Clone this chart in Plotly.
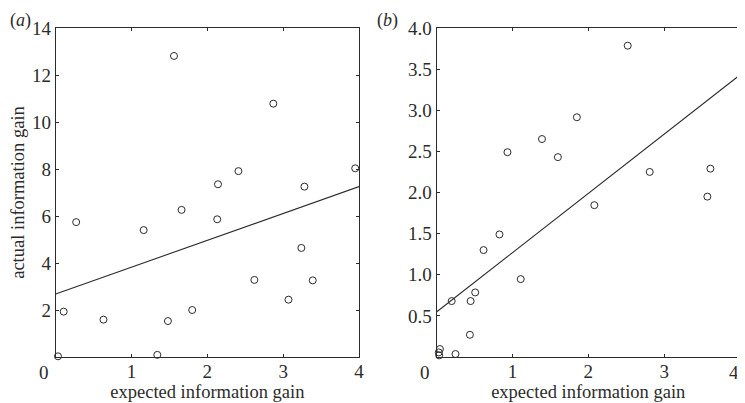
import plotly.graph_objects as go

# Panel (a)
a_expected = [0.03, 0.105, 0.27, 0.63, 1.16, 1.34, 1.48, 1.56, 1.66, 1.80,
              2.13, 2.14, 2.41, 2.62, 2.87, 3.07, 3.24, 3.28, 3.39, 3.95]
a_actual = [0.03, 1.93, 5.74, 1.59, 5.40, 0.09, 1.53, 12.81, 6.26, 2.00,
            5.86, 7.35, 7.91, 3.28, 10.78, 2.44, 4.64, 7.25, 3.26, 8.03]
a_fit_x = [0, 4]
a_fit_y = [2.68, 7.25]

# Panel (b)
b_expected = [0.045, 0.03, 0.035, 0.25, 0.20, 0.44, 0.45, 0.51, 0.62, 0.83,
              0.935, 1.11, 1.39, 1.60, 1.85, 2.08, 2.52, 2.81, 3.57, 3.61]
b_actual = [0.097, 0.056, 0.02, 0.036, 0.68, 0.27, 0.68, 0.785, 1.30, 1.49,
            2.49, 0.947, 2.65, 2.43, 2.915, 1.846, 3.785, 2.25, 1.95, 2.29]
b_fit_x = [0, 4]
b_fit_y = [0.547, 3.43]

a_x_ticks = [1, 2, 3, 4]
b_x_ticks = [1, 2, 3]
x_zero_label = "0"
b_x_last_label = "4"
a_y_ticks = [2, 4, 6, 8, 10, 12, 14]
b_y_ticks = [0.5, 1.0, 1.5, 2.0, 2.5, 3.0, 3.5, 4.0]
b_y_labels = ["0.5", "1.0", "1.5", "2.0", "2.5", "3.0", "3.5", "4.0"]

INK = "#2b2b2b"
FONT = "Liberation Serif, Times New Roman, serif"

fig = go.Figure()
marker = dict(symbol="circle-open", size=7, color=INK, line=dict(width=1, color=INK))

fig.add_trace(go.Scatter(x=a_expected, y=a_actual, mode="markers", marker=marker,
                         xaxis="x", yaxis="y", showlegend=False, cliponaxis=False))
fig.add_trace(go.Scatter(x=a_fit_x, y=a_fit_y, mode="lines", line=dict(color=INK, width=1.1),
                         xaxis="x", yaxis="y", showlegend=False))
fig.add_trace(go.Scatter(x=b_expected, y=b_actual, mode="markers", marker=marker,
                         xaxis="x2", yaxis="y2", showlegend=False, cliponaxis=False))
fig.add_trace(go.Scatter(x=b_fit_x, y=b_fit_y, mode="lines", line=dict(color=INK, width=1.1),
                         xaxis="x2", yaxis="y2", showlegend=False))

# page body has an 8px margin; figure sized so it ends at the window edge
OFF = 8
W, H = 745 - OFF, 403 - OFF
ydom = [1 - (357 - OFF) / H, 1 - (28 - OFF) / H]

TICK_SIZE = 19
common = dict(showline=True, linecolor=INK, linewidth=1, mirror="ticks", ticks="inside",
              ticklen=3, tickcolor=INK, tickwidth=1, showgrid=False, zeroline=False,
              automargin=False, ticklabeloverflow="allow",
              tickfont=dict(family=FONT, size=TICK_SIZE, color=INK))
title_font = dict(family=FONT, size=18.5, color=INK)

fig.update_layout(
    width=W, height=H, margin=dict(l=0, r=0, t=0, b=0),
    paper_bgcolor="white", plot_bgcolor="white",
    xaxis=dict(domain=[(55.7 - OFF) / W, (359 - OFF) / W], range=[0, 4], tickvals=a_x_ticks,
               anchor="y", ticklabelstandoff=-3,
               title=dict(text="expected information gain", font=title_font, standoff=4), **common),
    yaxis=dict(domain=ydom, range=[0, 14], tickvals=a_y_ticks, anchor="x",
               title=dict(text="actual information gain", font=title_font, standoff=4), **common),
    xaxis2=dict(domain=[(436.5 - OFF) / W, (740 - OFF) / W], range=[0, 4], tickvals=b_x_ticks,
                anchor="y2", ticklabelstandoff=-3,
                title=dict(text="expected information gain", font=title_font, standoff=4), **common),
    yaxis2=dict(domain=ydom, range=[0, 4], tickvals=b_y_ticks, ticktext=b_y_labels, anchor="x2",
                **common),
)

# "0" labels sit slightly left of the axis corner, as in the original
for xr, yr in (("x", "y"), ("x2", "y2")):
    fig.add_annotation(text=x_zero_label, x=0, y=0, xref=xr, yref=yr, xanchor="center",
                       yanchor="middle", xshift=-12, yshift=-15, showarrow=False,
                       font=dict(family=FONT, size=TICK_SIZE, color=INK))
# last label of panel (b) sits at the window edge
fig.add_annotation(text=b_x_last_label, x=4, y=0, xref="x2", yref="y2", xanchor="right",
                   yanchor="middle", xshift=1, yshift=-15, showarrow=False,
                   font=dict(family=FONT, size=TICK_SIZE, color=INK))

fig.add_annotation(text="(<i>a</i>)", x=0, y=1, xref="paper", yref="paper",
                   xanchor="left", yanchor="top", showarrow=False,
                   font=dict(family=FONT, size=18, color=INK))
fig.add_annotation(text="(<i>b</i>)", x=(375 - OFF) / W, y=1, xref="paper", yref="paper",
                   xanchor="left", yanchor="top", showarrow=False,
                   font=dict(family=FONT, size=18, color=INK))

fig.write_html("out.html")
